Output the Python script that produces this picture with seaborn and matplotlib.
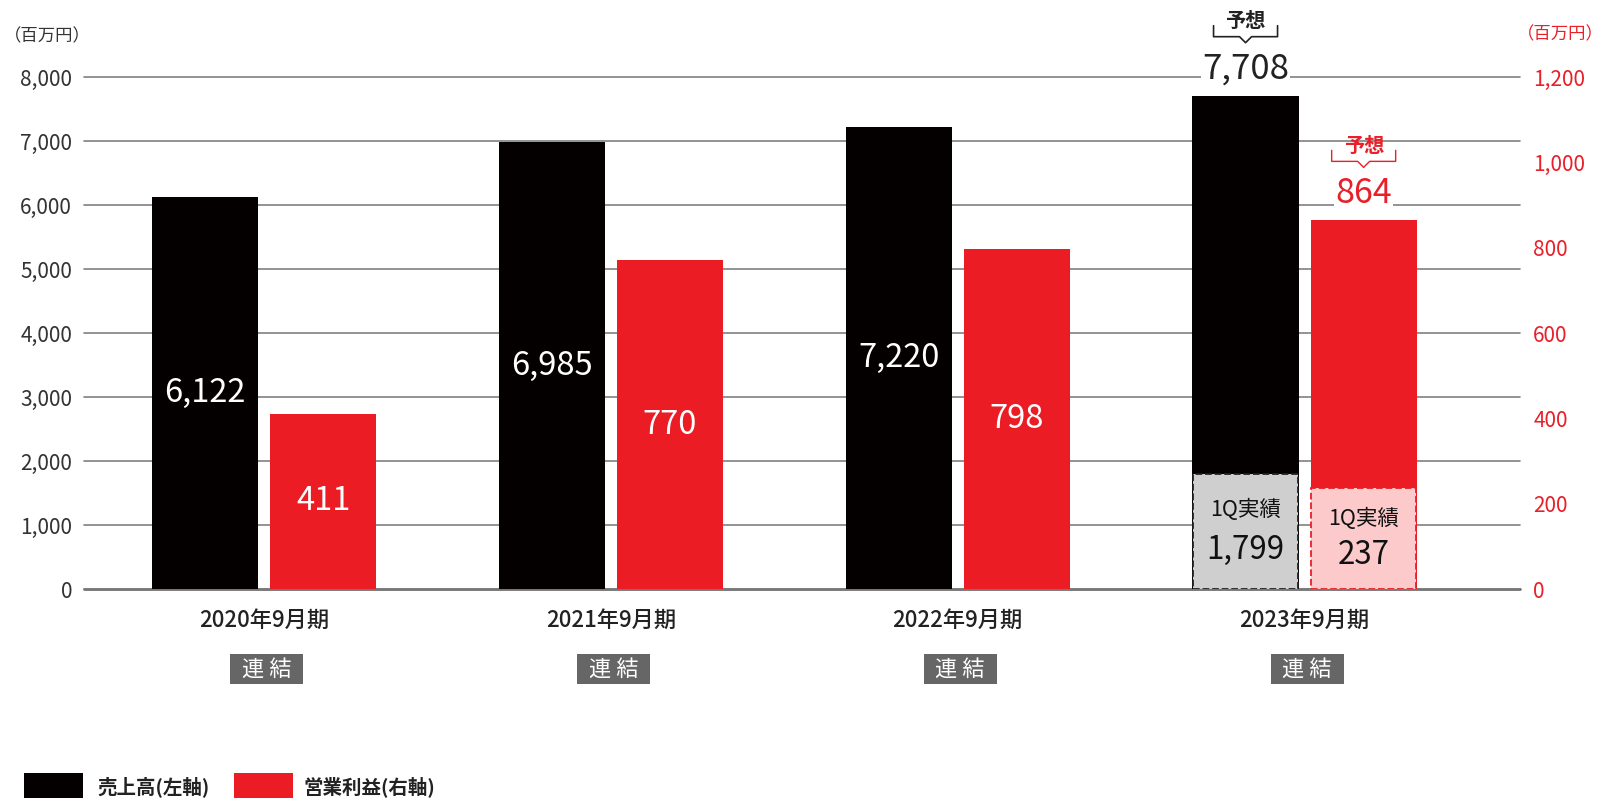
import numpy as np
import pandas as pd
import matplotlib
matplotlib.use("Agg")
import matplotlib.pyplot as plt
from matplotlib.patches import Rectangle
from matplotlib.lines import Line2D
from matplotlib.transforms import Affine2D, ScaledTranslation, blended_transform_factory
import seaborn as sns

# data
periods = ['2020年9月期', '2021年9月期', '2022年9月期', '2023年9月期']
sales = [6122, 6985, 7220, 7708]          # 売上高 (左軸)
profit = [411, 770, 798, 864]             # 営業利益 (右軸)
q1_sales = 1799                           # 2023 1Q実績
q1_profit = 237
series_names = ['売上高', '営業利益']
legend_labels = ['売上高(左軸)', '営業利益(右軸)']
left_ticks = [0, 1000, 2000, 3000, 4000, 5000, 6000, 7000, 8000]
right_ticks = [0, 200, 400, 600, 800, 1000, 1200]

BLACK = '#040000'
RED = '#ec1c24'
RED_TXT = '#e8202a'
W, H = 1601, 798

sns.set_theme(style='white')
plt.rcParams['font.family'] = ['Noto Sans CJK JP', 'DejaVu Sans']

# each axis gets both hue levels so the dodge slots line up; the other series is 0 there
df = pd.DataFrame({'period': periods * 2,
                   'series': [series_names[0]] * 4 + [series_names[1]] * 4,
                   'value': sales + profit})
df_left = df.assign(value=np.where(df['series'] == series_names[0], df['value'], 0))
df_right = df.assign(value=np.where(df['series'] == series_names[1], df['value'], 0))
palette = {series_names[0]: BLACK, series_names[1]: RED}

fig = plt.figure(figsize=(W / 100, H / 100), dpi=100)
ax = fig.add_axes([84 / W, 1 - 589 / H, (1520 - 84) / W, 524.8 / H])
ax2 = ax.twinx()

common = dict(x='period', y='value', hue='series', order=periods, hue_order=series_names,
              palette=palette, width=0.681, gap=0.10, saturation=1, errorbar=None,
              legend=False, linewidth=0)
sns.barplot(data=df_left, ax=ax, **common)
sns.barplot(data=df_right, ax=ax2, **common)

ax.set_ylim(0, 8200)
ax2.set_ylim(0, 1230)
ax.set_xlim(-0.519, 3.621)

for a in (ax, ax2):
    for s in a.spines.values():
        s.set_visible(False)
    a.set_xlabel('')
    a.set_ylabel('')

# gridlines
ax.set_yticks(left_ticks)
ax.set_yticklabels([f'{v:,}' for v in left_ticks])
ax.yaxis.grid(True, color='#808080', lw=1.2)
ax.xaxis.grid(False)
for ln in ax.get_ygridlines():
    ln.set_clip_on(False)
ax.axhline(0, color='#555555', lw=1.8, clip_on=False, zorder=0.5)
ax.set_axisbelow(True)
ax.tick_params(axis='y', length=0, pad=8.5, labelsize=15, labelcolor='#333333')
ax.tick_params(axis='x', length=0, pad=14, labelsize=16, labelcolor='#222222')
for lab in ax.get_xticklabels():
    lab.set_fontweight('medium')

ax2.set_yticks(right_ticks)
ax2.set_yticklabels([f'{v:,}' for v in right_ticks])
ax2.yaxis.grid(False)
ax2.tick_params(axis='y', length=0, pad=9.5, labelsize=15, labelcolor=RED_TXT)

# units
fig.text(4 / W, 1 - 36 / H, '（百万円）', fontsize=12.5, color='#333333', va='center', ha='left')
fig.text(1517 / W, 1 - 34 / H, '（百万円）', fontsize=12.5, color=RED_TXT, va='center', ha='left')

sales_bars = sorted([p for p in ax.patches if p.get_height() > 0], key=lambda p: p.get_x())
profit_bars = sorted([p for p in ax2.patches if p.get_height() > 0], key=lambda p: p.get_x())


def center(bar):
    return bar.get_x() + bar.get_width() / 2


# value labels inside bars (actual results)
for bar, v in zip(sales_bars[:-1], sales[:-1]):
    ax.text(center(bar), v / 2, f'{v:,}', ha='center', va='center', color='white', fontsize=23.5)
for bar, v in zip(profit_bars[:-1], profit[:-1]):
    ax2.text(center(bar), v / 2, f'{v:,}', ha='center', va='center', color='white', fontsize=23.5)


def forecast(a, bar, v, color, lw, size):
    x = center(bar)
    a.annotate(f'{v:,}', (x, v), xytext=(0, 27), textcoords='offset pixels', ha='center',
               va='center', fontsize=size, color=color,
               bbox=dict(fc='white', ec='none', pad=1), annotation_clip=False)
    a.annotate('予想', (x, v), xytext=(0, 75), textcoords='offset pixels', ha='center',
               va='center', fontsize=14.5, fontweight='bold', color=color, annotation_clip=False)
    tr = Affine2D() + ScaledTranslation(x, v, a.transData)
    hw = 32
    fig.add_artist(Line2D([-hw, -hw, -6, 0, 6, hw, hw], [70, 59, 59, 53, 59, 59, 70],
                          transform=tr, color=color, lw=lw))


forecast(ax, sales_bars[-1], sales[-1], '#222222', 1.2, 25)
forecast(ax2, profit_bars[-1], profit[-1], RED_TXT, 1.0, 24.5)

# 1Q results inside the 2023 forecast bars
for a, bar, v, fc, ec in [(ax, sales_bars[-1], q1_sales, '#d0cfd0', '#222222'),
                          (ax2, profit_bars[-1], q1_profit, '#fccaca', RED_TXT)]:
    a.bar(center(bar), v, width=bar.get_width() * 0.985, color=fc, edgecolor=ec,
          linestyle='--', linewidth=1.3, zorder=3)
    a.text(center(bar), v * 0.69, '1Q実績', ha='center', va='center', fontsize=15.5,
           color='#111111', zorder=4)
    a.text(center(bar), v * 0.34, f'{v:,}', ha='center', va='center', fontsize=22.5,
           color='#111111', zorder=4)

# 連結 badges
btr = blended_transform_factory(ax.transData, fig.transFigure)
bw = 73 / 346.8
for xc in ax.get_xticks():
    fig.add_artist(Rectangle((xc - bw / 2 + 0.007, 1 - 684 / H), bw, 30 / H, transform=btr,
                             facecolor='#666666', edgecolor='none'))
    fig.text(xc + 0.007, 1 - 669 / H, '連 結', transform=btr, ha='center', va='center',
             fontsize=16, color='white')

# legend
for x0, tx, col, lab in [(24, 97, BLACK, legend_labels[0]), (234, 303, RED, legend_labels[1])]:
    fig.add_artist(Rectangle((x0 / W, 1 - 801 / H), 59 / W, 28 / H, transform=fig.transFigure,
                             facecolor=col, edgecolor='none'))
    fig.text(tx / W, 1 - 787 / H, lab, fontsize=14, fontweight='bold', color='#222222',
             va='center', ha='left')

fig.savefig('out.png', dpi=100)
